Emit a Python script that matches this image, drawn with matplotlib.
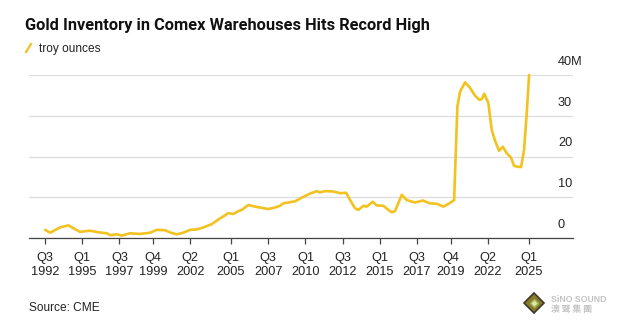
import matplotlib
matplotlib.use("Agg")
import matplotlib.pyplot as plt
from matplotlib.lines import Line2D

# ---- data (decimal year, million troy ounces) ----
years = [1992.5, 1992.84, 1993.51, 1994.07, 1994.40, 1994.85, 1995.52, 1996.08,
         1996.65, 1996.87, 1997.32, 1997.65, 1998.21, 1998.88, 1999.56, 2000.01,
         2000.56, 2000.95, 2001.35, 2001.79, 2002.24, 2002.70, 2003.14, 2003.70,
         2004.26, 2004.82, 2005.15, 2005.49, 2005.72, 2006.16, 2006.61, 2007.06,
         2007.51, 2007.96, 2008.29, 2008.51, 2008.97, 2009.30, 2009.70, 2010.31,
         2010.76, 2010.98, 2011.32, 2011.88, 2012.33, 2012.73, 2013.00, 2013.33,
         2013.56, 2013.89, 2014.12, 2014.52, 2014.79, 2015.24, 2015.57, 2015.80,
         2016.02, 2016.47, 2016.81, 2017.37, 2017.88, 2018.37, 2018.82, 2019.27,
         2019.67, 2019.99, 2020.21, 2020.39, 2020.73, 2021.07, 2021.40, 2021.69,
         2021.85, 2022.02, 2022.29, 2022.52, 2022.74, 2023.01, 2023.26, 2023.53,
         2023.80, 2024.02, 2024.24, 2024.49, 2024.69, 2024.87, 2025.03]
ounces_m = [2.0, 1.3, 2.6, 3.1, 2.4, 1.5, 1.8, 1.4,
            1.15, 0.7, 0.9, 0.6, 1.15, 1.0, 1.3, 2.0,
            1.9, 1.3, 0.9, 1.3, 2.0, 2.1, 2.6, 3.4,
            4.8, 6.1, 5.9, 6.6, 6.9, 8.1, 7.7, 7.4,
            7.1, 7.5, 7.9, 8.5, 8.8, 9.0, 9.8, 10.9,
            11.5, 11.2, 11.5, 11.4, 11.0, 11.1, 9.3, 7.3,
            6.9, 7.9, 7.7, 8.9, 8.0, 7.9, 6.9, 6.3,
            6.6, 10.6, 9.3, 8.7, 9.2, 8.5, 8.4, 7.7,
            8.5, 9.3, 32.3, 35.9, 38.2, 36.8, 34.9, 33.9,
            34.1, 35.4, 33.1, 26.5, 23.9, 21.4, 22.4, 20.8,
            19.8, 17.7, 17.5, 17.4, 21.6, 30.6, 40.0]

xtick_pos = [1992.5, 1995.0, 1997.5, 1999.75, 2002.25, 2005.0, 2007.5,
             2010.0, 2012.5, 2015.0, 2017.5, 2019.75, 2022.25, 2025.0]
xtick_labels = ["Q3\n1992", "Q1\n1995", "Q3\n1997", "Q4\n1999", "Q2\n2002",
                "Q1\n2005", "Q3\n2007", "Q1\n2010", "Q3\n2012", "Q1\n2015",
                "Q3\n2017", "Q4\n2019", "Q2\n2022", "Q1\n2025"]
ytick_pos = [0, 10, 20, 30, 40]
ytick_labels = ["0", "10", "20", "30", "40M"]

title = "Gold Inventory in Comex Warehouses Hits Record High"
legend_label = "troy ounces"
source = "Source: CME"

LINE = "#F2C220"
FONT = ["Liberation Sans", "DejaVu Sans"]
plt.rcParams["font.family"] = FONT

W, H = 621, 326
fig = plt.figure(figsize=(W / 100, H / 100), dpi=100)
fig.patch.set_facecolor("white")

ax = fig.add_axes([29 / W, 1 - 238 / H, (573 - 29) / W, (238 - 75) / H])
ax.plot(years, ounces_m, color=LINE, lw=1.9, solid_joinstyle="round",
        solid_capstyle="round", clip_on=False, zorder=3)

ax.set_xlim(1991.42, 2027.98)
ax.set_ylim(0, 40)
for s in ["top", "right", "left"]:
    ax.spines[s].set_visible(False)
ax.spines["bottom"].set_color("#444444")
ax.spines["bottom"].set_linewidth(0.9)

ax.set_xticks(xtick_pos)
ax.set_xticklabels(xtick_labels, fontsize=9.2, color="#222222", linespacing=1.2)
ax.tick_params(axis="x", length=4, width=0.9, color="#444444", pad=6)

ax.set_yticks(ytick_pos)
ax.set_yticklabels([])
ax.tick_params(axis="y", length=0)
ax.yaxis.grid(True, color="#dddddd", lw=0.9)
ax.set_axisbelow(True)
for v, lab in zip(ytick_pos, ytick_labels):
    ax.annotate(lab, xy=(1, v), xycoords=("axes fraction", "data"),
                xytext=(-15, 7), textcoords="offset pixels",
                ha="left", va="bottom", fontsize=9.2, color="#222222")

fig.text(25 / W, 1 - 30 / H, title, fontsize=11.8, fontweight="bold",
         color="#111111", ha="left", va="baseline",
         family=["Roboto", "DejaVu Sans"])
fig.add_artist(Line2D([26 / W, 31 / W], [1 - 52 / H, 1 - 44 / H],
                      color=LINE, lw=1.6, transform=fig.transFigure))
fig.text(39 / W, 1 - 52 / H, legend_label, fontsize=8.6, color="#222222",
         ha="left", va="baseline")
fig.text(29 / W, 1 - 311 / H, source, fontsize=8.6, color="#222222",
         ha="left", va="baseline")

# watermark logo
fig.add_artist(Line2D([534 / W], [1 - 303 / H], marker="D", markersize=10,
                      markerfacecolor="#8a7a2a", markeredgecolor="#3a3a2a",
                      markeredgewidth=1.2, transform=fig.transFigure))
fig.add_artist(Line2D([534 / W], [1 - 303 / H], marker="D", markersize=4,
                      markerfacecolor="#d8e8a0", markeredgecolor="#a0b060",
                      transform=fig.transFigure))
fig.text(551 / W, 1 - 300 / H, "SiNO SOUND", fontsize=6.3, fontweight="bold",
         color="#c4c4c4", ha="left", va="center")
fig.text(551 / W, 1 - 309.5 / H, "澳 聲 集 團", fontsize=6.3, fontweight="bold",
         color="#c4c4c4", ha="left", va="center",
         family=["Noto Sans CJK TC", "DejaVu Sans"])

fig.savefig("out.png", dpi=100, facecolor="white")
